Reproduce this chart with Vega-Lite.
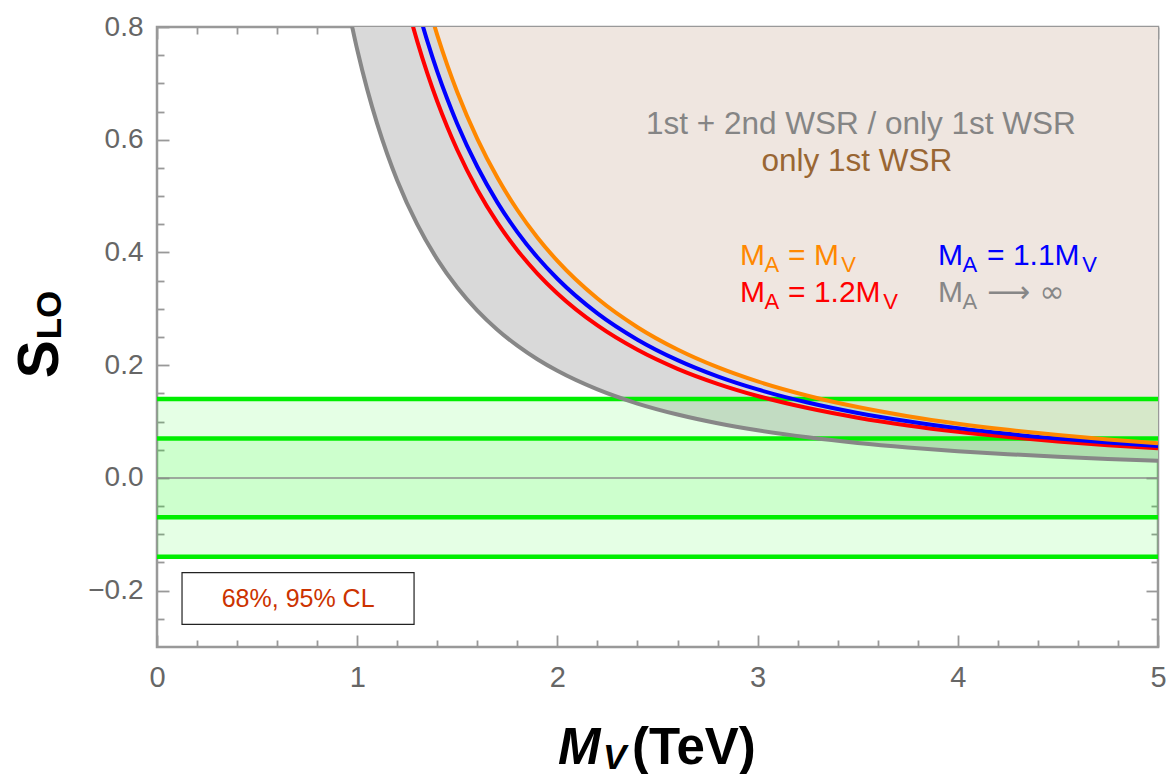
{
  "$schema": "https://vega.github.io/schema/vega-lite/v6.json",
  "width": 1001,
  "height": 620,
  "autosize": {"type": "none"},
  "padding": {"left": 157, "top": 27, "right": 8, "bottom": 127},
  "background": "white",
  "config": {
    "view": {"stroke": "#999999", "strokeWidth": 2.5},
    "axis": {"domain": false, "grid": false, "labelFont": "Liberation Sans", "labelColor": "#666666", "tickColor": "#999999", "tickWidth": 1.8, "labelFlush": false, "labelOverlap": false, "labelBound": false, "zindex": 1, "title": null},
    "text": {"font": "Liberation Sans"}
  },
  "datasets": {
    "curves": [
      {"M": 0.95, "S": 0.8421, "series": "MA→∞"},
      {"M": 1.0, "S": 0.76, "series": "MA→∞"},
      {"M": 1.05, "S": 0.6893, "series": "MA→∞"},
      {"M": 1.1, "S": 0.6281, "series": "MA→∞"},
      {"M": 1.15, "S": 0.5747, "series": "MA→∞"},
      {"M": 1.2, "S": 0.5278, "series": "MA→∞"},
      {"M": 1.3, "S": 0.4497, "series": "MA→∞"},
      {"M": 1.4, "S": 0.3878, "series": "MA→∞"},
      {"M": 1.5, "S": 0.3378, "series": "MA→∞"},
      {"M": 1.6, "S": 0.2969, "series": "MA→∞"},
      {"M": 1.7, "S": 0.263, "series": "MA→∞"},
      {"M": 1.8, "S": 0.2346, "series": "MA→∞"},
      {"M": 1.9, "S": 0.2105, "series": "MA→∞"},
      {"M": 2.0, "S": 0.19, "series": "MA→∞"},
      {"M": 2.2, "S": 0.157, "series": "MA→∞"},
      {"M": 2.4, "S": 0.1319, "series": "MA→∞"},
      {"M": 2.6, "S": 0.1124, "series": "MA→∞"},
      {"M": 2.8, "S": 0.0969, "series": "MA→∞"},
      {"M": 3.0, "S": 0.0844, "series": "MA→∞"},
      {"M": 3.25, "S": 0.072, "series": "MA→∞"},
      {"M": 3.5, "S": 0.062, "series": "MA→∞"},
      {"M": 3.75, "S": 0.054, "series": "MA→∞"},
      {"M": 4.0, "S": 0.0475, "series": "MA→∞"},
      {"M": 4.25, "S": 0.0421, "series": "MA→∞"},
      {"M": 4.5, "S": 0.0375, "series": "MA→∞"},
      {"M": 4.75, "S": 0.0337, "series": "MA→∞"},
      {"M": 5.0, "S": 0.0304, "series": "MA→∞"},
      {"M": 1.25, "S": 0.8378, "series": "MA=1.2MV"},
      {"M": 1.3, "S": 0.7746, "series": "MA=1.2MV"},
      {"M": 1.35, "S": 0.7182, "series": "MA=1.2MV"},
      {"M": 1.4, "S": 0.6679, "series": "MA=1.2MV"},
      {"M": 1.45, "S": 0.6226, "series": "MA=1.2MV"},
      {"M": 1.5, "S": 0.5818, "series": "MA=1.2MV"},
      {"M": 1.6, "S": 0.5113, "series": "MA=1.2MV"},
      {"M": 1.7, "S": 0.4529, "series": "MA=1.2MV"},
      {"M": 1.8, "S": 0.404, "series": "MA=1.2MV"},
      {"M": 1.9, "S": 0.3626, "series": "MA=1.2MV"},
      {"M": 2.0, "S": 0.3273, "series": "MA=1.2MV"},
      {"M": 2.2, "S": 0.2705, "series": "MA=1.2MV"},
      {"M": 2.4, "S": 0.2273, "series": "MA=1.2MV"},
      {"M": 2.6, "S": 0.1936, "series": "MA=1.2MV"},
      {"M": 2.8, "S": 0.167, "series": "MA=1.2MV"},
      {"M": 3.0, "S": 0.1454, "series": "MA=1.2MV"},
      {"M": 3.25, "S": 0.1239, "series": "MA=1.2MV"},
      {"M": 3.5, "S": 0.1069, "series": "MA=1.2MV"},
      {"M": 3.75, "S": 0.0931, "series": "MA=1.2MV"},
      {"M": 4.0, "S": 0.0818, "series": "MA=1.2MV"},
      {"M": 4.25, "S": 0.0725, "series": "MA=1.2MV"},
      {"M": 4.5, "S": 0.0646, "series": "MA=1.2MV"},
      {"M": 4.75, "S": 0.058, "series": "MA=1.2MV"},
      {"M": 5.0, "S": 0.0524, "series": "MA=1.2MV"},
      {"M": 1.3, "S": 0.836, "series": "MA=1.1MV"},
      {"M": 1.35, "S": 0.7753, "series": "MA=1.1MV"},
      {"M": 1.4, "S": 0.7209, "series": "MA=1.1MV"},
      {"M": 1.45, "S": 0.6721, "series": "MA=1.1MV"},
      {"M": 1.5, "S": 0.628, "series": "MA=1.1MV"},
      {"M": 1.6, "S": 0.552, "series": "MA=1.1MV"},
      {"M": 1.7, "S": 0.4889, "series": "MA=1.1MV"},
      {"M": 1.8, "S": 0.4361, "series": "MA=1.1MV"},
      {"M": 1.9, "S": 0.3914, "series": "MA=1.1MV"},
      {"M": 2.0, "S": 0.3533, "series": "MA=1.1MV"},
      {"M": 2.2, "S": 0.2919, "series": "MA=1.1MV"},
      {"M": 2.4, "S": 0.2453, "series": "MA=1.1MV"},
      {"M": 2.6, "S": 0.209, "series": "MA=1.1MV"},
      {"M": 2.8, "S": 0.1802, "series": "MA=1.1MV"},
      {"M": 3.0, "S": 0.157, "series": "MA=1.1MV"},
      {"M": 3.25, "S": 0.1338, "series": "MA=1.1MV"},
      {"M": 3.5, "S": 0.1153, "series": "MA=1.1MV"},
      {"M": 3.75, "S": 0.1005, "series": "MA=1.1MV"},
      {"M": 4.0, "S": 0.0883, "series": "MA=1.1MV"},
      {"M": 4.25, "S": 0.0782, "series": "MA=1.1MV"},
      {"M": 4.5, "S": 0.0698, "series": "MA=1.1MV"},
      {"M": 4.75, "S": 0.0626, "series": "MA=1.1MV"},
      {"M": 5.0, "S": 0.0565, "series": "MA=1.1MV"},
      {"M": 1.35, "S": 0.845, "series": "MA=MV"},
      {"M": 1.4, "S": 0.7857, "series": "MA=MV"},
      {"M": 1.45, "S": 0.7325, "series": "MA=MV"},
      {"M": 1.5, "S": 0.6844, "series": "MA=MV"},
      {"M": 1.6, "S": 0.6016, "series": "MA=MV"},
      {"M": 1.7, "S": 0.5329, "series": "MA=MV"},
      {"M": 1.8, "S": 0.4753, "series": "MA=MV"},
      {"M": 1.9, "S": 0.4266, "series": "MA=MV"},
      {"M": 2.0, "S": 0.385, "series": "MA=MV"},
      {"M": 2.2, "S": 0.3182, "series": "MA=MV"},
      {"M": 2.4, "S": 0.2674, "series": "MA=MV"},
      {"M": 2.6, "S": 0.2278, "series": "MA=MV"},
      {"M": 2.8, "S": 0.1964, "series": "MA=MV"},
      {"M": 3.0, "S": 0.1711, "series": "MA=MV"},
      {"M": 3.25, "S": 0.1458, "series": "MA=MV"},
      {"M": 3.5, "S": 0.1257, "series": "MA=MV"},
      {"M": 3.75, "S": 0.1095, "series": "MA=MV"},
      {"M": 4.0, "S": 0.09625, "series": "MA=MV"},
      {"M": 4.25, "S": 0.0853, "series": "MA=MV"},
      {"M": 4.5, "S": 0.076, "series": "MA=MV"},
      {"M": 4.75, "S": 0.0683, "series": "MA=MV"},
      {"M": 5.0, "S": 0.0616, "series": "MA=MV"}
    ],
    "bands": [
      {"band": "95% CL", "lo": -0.14, "hi": 0.14, "xmin": 0, "xmax": 5},
      {"band": "68% CL", "lo": -0.07, "hi": 0.07, "xmin": 0, "xmax": 5}
    ],
    "bandEdges": [
      {"edge": 0.14}, {"edge": 0.07}, {"edge": -0.07}, {"edge": -0.14}
    ],
    "zero": [{"level": 0}],
    "clBox": [{"x0": 0.125, "x1": 1.284, "y0": -0.168, "y1": -0.26, "xc": 0.705, "yc": -0.214, "text": "68%, 95% CL"}],
    "regionLabels": [
      {"text": "1st + 2nd WSR / only 1st WSR", "x": 3.516, "y": 0.611, "series": "WSR12"},
      {"text": "only 1st WSR", "x": 3.496, "y": 0.545, "series": "WSR1"}
    ],
    "eqMain": [
      {"text": "M", "x": 2.912, "y": 0.377, "series": "MA=MV"},
      {"text": "= M", "x": 3.152, "y": 0.377, "series": "MA=MV"},
      {"text": "M", "x": 3.901, "y": 0.377, "series": "MA=1.1MV"},
      {"text": "= 1.1M", "x": 4.146, "y": 0.377, "series": "MA=1.1MV"},
      {"text": "M", "x": 2.912, "y": 0.3115, "series": "MA=1.2MV"},
      {"text": "= 1.2M", "x": 3.152, "y": 0.3115, "series": "MA=1.2MV"},
      {"text": "M", "x": 3.901, "y": 0.3115, "series": "MA→∞"}
    ],
    "eqArrow": [
      {"text": "⟶ ∞", "x": 4.146, "y": 0.3115, "series": "MA→∞"}
    ],
    "eqSub": [
      {"text": "A", "x": 3.034, "y": 0.365, "series": "MA=MV"},
      {"text": "V", "x": 3.418, "y": 0.365, "series": "MA=MV"},
      {"text": "A", "x": 4.023, "y": 0.365, "series": "MA=1.1MV"},
      {"text": "V", "x": 4.622, "y": 0.365, "series": "MA=1.1MV"},
      {"text": "A", "x": 3.034, "y": 0.2995, "series": "MA=1.2MV"},
      {"text": "V", "x": 3.628, "y": 0.2995, "series": "MA=1.2MV"},
      {"text": "A", "x": 4.023, "y": 0.2995, "series": "MA→∞"}
    ],
    "titles": [
      {"part": "xMain", "text": "M", "x": 2.003, "y": -0.508},
      {"part": "xSub", "text": "V", "x": 2.228, "y": -0.516},
      {"part": "xUnit", "text": "(TeV)", "x": 2.373, "y": -0.508},
      {"part": "yMain", "text": "S", "x": -0.4945, "y": 0.177},
      {"part": "ySub", "text": "LO", "x": -0.4795, "y": 0.246}
    ]
  },
  "layer": [
    {
      "data": {"name": "curves"},
      "transform": [{"filter": "datum.series === 'MA→∞'"}],
      "mark": {"type": "area", "color": "#D9D9D9", "clip": true, "interpolate": "monotone"},
      "encoding": {
        "x": {"field": "M", "type": "quantitative", "scale": {"domain": [0, 5], "nice": false, "zero": false},
          "axis": {"orient": "bottom", "values": [0, 1, 2, 3, 4, 5], "format": "d", "tickSize": -12, "labelFontSize": 29, "labelPadding": 28}},
        "y": {"field": "S", "type": "quantitative", "scale": {"domain": [-0.3, 0.8], "nice": false, "zero": false},
          "axis": {"orient": "left", "values": [-0.2, 0, 0.2, 0.4, 0.6, 0.8], "format": ".1f", "tickSize": -12, "labelFontSize": 28, "labelPadding": 26}},
        "y2": {"datum": 0.8}
      }
    },
    {
      "data": {"name": "curves"},
      "transform": [{"filter": "datum.series === 'MA=MV'"}],
      "mark": {"type": "area", "color": "#EFE6E0", "clip": true, "interpolate": "monotone"},
      "encoding": {
        "x": {"field": "M", "type": "quantitative", "scale": {"domain": [0, 5], "nice": false, "zero": false},
          "axis": {"orient": "bottom", "labels": false, "tickSize": -7, "values": [0.2,0.4,0.6,0.8,1.2,1.4,1.6,1.8,2.2,2.4,2.6,2.8,3.2,3.4,3.6,3.8,4.2,4.4,4.6,4.8]}},
        "y": {"field": "S", "type": "quantitative", "scale": {"domain": [-0.3, 0.8], "nice": false, "zero": false},
          "axis": {"orient": "left", "labels": false, "tickSize": -7, "values": [-0.25,-0.15,-0.1,-0.05,0.05,0.1,0.15,0.25,0.3,0.35,0.45,0.5,0.55,0.65,0.7,0.75]}},
        "y2": {"datum": 0.8}
      }
    },
    {
      "data": {"name": "bands"},
      "mark": {"type": "rect", "color": "#00FF00", "opacity": 0.1},
      "encoding": {
        "x": {"field": "xmin", "type": "quantitative", "scale": {"domain": [0, 5], "nice": false, "zero": false},
          "axis": {"orient": "top", "labels": false, "tickSize": -12, "values": [0, 1, 2, 3, 4, 5]}},
        "x2": {"field": "xmax"},
        "y": {"field": "lo", "type": "quantitative", "scale": {"domain": [-0.3, 0.8], "nice": false, "zero": false},
          "axis": {"orient": "right", "labels": false, "tickSize": -12, "values": [-0.2, 0, 0.2, 0.4, 0.6, 0.8]}},
        "y2": {"field": "hi"}
      }
    },
    {
      "data": {"name": "zero"},
      "mark": {"type": "rule", "color": "#8C8C8C", "strokeWidth": 1.5},
      "encoding": {
        "y": {"field": "level", "type": "quantitative", "scale": {"domain": [-0.3, 0.8], "nice": false, "zero": false}, "axis": null}
      }
    },
    {
      "data": {"name": "bandEdges"},
      "mark": {"type": "rule", "color": "#00EE00", "strokeWidth": 4.5},
      "encoding": {
        "y": {"field": "edge", "type": "quantitative", "scale": {"domain": [-0.3, 0.8], "nice": false, "zero": false}, "axis": null}
      }
    },
    {
      "data": {"name": "curves"},
      "mark": {"type": "line", "strokeWidth": 4, "clip": true, "interpolate": "monotone"},
      "encoding": {
        "x": {"field": "M", "type": "quantitative", "scale": {"domain": [0, 5], "nice": false, "zero": false},
          "axis": {"orient": "top", "labels": false, "tickSize": -7, "values": [0.2,0.4,0.6,0.8,1.2,1.4,1.6,1.8,2.2,2.4,2.6,2.8,3.2,3.4,3.6,3.8,4.2,4.4,4.6,4.8]}},
        "y": {"field": "S", "type": "quantitative", "scale": {"domain": [-0.3, 0.8], "nice": false, "zero": false},
          "axis": {"orient": "right", "labels": false, "tickSize": -7, "values": [-0.25,-0.15,-0.1,-0.05,0.05,0.1,0.15,0.25,0.3,0.35,0.45,0.5,0.55,0.65,0.7,0.75]}},
        "color": {"field": "series", "type": "nominal", "legend": null,
          "scale": {"domain": ["MA→∞", "MA=1.2MV", "MA=1.1MV", "MA=MV", "WSR12", "WSR1"], "range": ["#878787", "#FF0000", "#0000FF", "#FF8800", "#858585", "#996633"]}},
        "order": {"field": "M", "type": "quantitative"}
      }
    },
    {
      "data": {"name": "clBox"},
      "mark": {"type": "rect", "fill": "white", "stroke": "#222222", "strokeWidth": 1.2},
      "encoding": {
        "x": {"field": "x0", "type": "quantitative", "scale": {"domain": [0, 5], "nice": false, "zero": false}, "axis": null},
        "x2": {"field": "x1"},
        "y": {"field": "y0", "type": "quantitative", "scale": {"domain": [-0.3, 0.8], "nice": false, "zero": false}, "axis": null},
        "y2": {"field": "y1"}
      }
    },
    {
      "data": {"name": "clBox"},
      "mark": {"type": "text", "color": "#CC3300", "fontSize": 25, "align": "center", "baseline": "middle"},
      "encoding": {
        "x": {"field": "xc", "type": "quantitative", "scale": {"domain": [0, 5], "nice": false, "zero": false}, "axis": null},
        "y": {"field": "yc", "type": "quantitative", "scale": {"domain": [-0.3, 0.8], "nice": false, "zero": false}, "axis": null},
        "text": {"field": "text"}
      }
    },
    {
      "data": {"name": "regionLabels"},
      "mark": {"type": "text", "fontSize": 31.5, "align": "center", "baseline": "alphabetic"},
      "encoding": {
        "x": {"field": "x", "type": "quantitative", "scale": {"domain": [0, 5], "nice": false, "zero": false}, "axis": null},
        "y": {"field": "y", "type": "quantitative", "scale": {"domain": [-0.3, 0.8], "nice": false, "zero": false}, "axis": null},
        "text": {"field": "text"},
        "color": {"field": "series", "type": "nominal", "legend": null}
      }
    },
    {
      "data": {"name": "eqMain"},
      "mark": {"type": "text", "fontSize": 30, "align": "left", "baseline": "alphabetic"},
      "encoding": {
        "x": {"field": "x", "type": "quantitative", "scale": {"domain": [0, 5], "nice": false, "zero": false}, "axis": null},
        "y": {"field": "y", "type": "quantitative", "scale": {"domain": [-0.3, 0.8], "nice": false, "zero": false}, "axis": null},
        "text": {"field": "text"},
        "color": {"field": "series", "type": "nominal", "legend": null}
      }
    },
    {
      "data": {"name": "eqArrow"},
      "mark": {"type": "text", "fontSize": 30, "font": "DejaVu Sans", "align": "left", "baseline": "alphabetic"},
      "encoding": {
        "x": {"field": "x", "type": "quantitative", "scale": {"domain": [0, 5], "nice": false, "zero": false}, "axis": null},
        "y": {"field": "y", "type": "quantitative", "scale": {"domain": [-0.3, 0.8], "nice": false, "zero": false}, "axis": null},
        "text": {"field": "text"},
        "color": {"field": "series", "type": "nominal", "legend": null}
      }
    },
    {
      "data": {"name": "eqSub"},
      "mark": {"type": "text", "fontSize": 22, "align": "left", "baseline": "alphabetic"},
      "encoding": {
        "x": {"field": "x", "type": "quantitative", "scale": {"domain": [0, 5], "nice": false, "zero": false}, "axis": null},
        "y": {"field": "y", "type": "quantitative", "scale": {"domain": [-0.3, 0.8], "nice": false, "zero": false}, "axis": null},
        "text": {"field": "text"},
        "color": {"field": "series", "type": "nominal", "legend": null}
      }
    },
    {
      "data": {"name": "titles"},
      "transform": [{"filter": "datum.part === 'xMain'"}],
      "mark": {"type": "text", "fontSize": 51, "fontWeight": "bold", "fontStyle": "italic", "align": "left", "baseline": "alphabetic", "color": "black"},
      "encoding": {
        "x": {"field": "x", "type": "quantitative", "scale": {"domain": [0, 5], "nice": false, "zero": false}, "axis": null},
        "y": {"field": "y", "type": "quantitative", "scale": {"domain": [-0.3, 0.8], "nice": false, "zero": false}, "axis": null},
        "text": {"field": "text"}
      }
    },
    {
      "data": {"name": "titles"},
      "transform": [{"filter": "datum.part === 'xSub'"}],
      "mark": {"type": "text", "fontSize": 35, "fontWeight": "bold", "fontStyle": "italic", "align": "left", "baseline": "alphabetic", "color": "black"},
      "encoding": {
        "x": {"field": "x", "type": "quantitative", "scale": {"domain": [0, 5], "nice": false, "zero": false}, "axis": null},
        "y": {"field": "y", "type": "quantitative", "scale": {"domain": [-0.3, 0.8], "nice": false, "zero": false}, "axis": null},
        "text": {"field": "text"}
      }
    },
    {
      "data": {"name": "titles"},
      "transform": [{"filter": "datum.part === 'xUnit'"}],
      "mark": {"type": "text", "fontSize": 51, "fontWeight": "bold", "align": "left", "baseline": "alphabetic", "color": "black"},
      "encoding": {
        "x": {"field": "x", "type": "quantitative", "scale": {"domain": [0, 5], "nice": false, "zero": false}, "axis": null},
        "y": {"field": "y", "type": "quantitative", "scale": {"domain": [-0.3, 0.8], "nice": false, "zero": false}, "axis": null},
        "text": {"field": "text"}
      }
    },
    {
      "data": {"name": "titles"},
      "transform": [{"filter": "datum.part === 'yMain'"}],
      "mark": {"type": "text", "fontSize": 57, "fontWeight": "bold", "angle": 270, "align": "left", "baseline": "alphabetic", "color": "black"},
      "encoding": {
        "x": {"field": "x", "type": "quantitative", "scale": {"domain": [0, 5], "nice": false, "zero": false}, "axis": null},
        "y": {"field": "y", "type": "quantitative", "scale": {"domain": [-0.3, 0.8], "nice": false, "zero": false}, "axis": null},
        "text": {"field": "text"}
      }
    },
    {
      "data": {"name": "titles"},
      "transform": [{"filter": "datum.part === 'ySub'"}],
      "mark": {"type": "text", "fontSize": 35, "fontWeight": "bold", "angle": 270, "align": "left", "baseline": "alphabetic", "color": "black"},
      "encoding": {
        "x": {"field": "x", "type": "quantitative", "scale": {"domain": [0, 5], "nice": false, "zero": false}, "axis": null},
        "y": {"field": "y", "type": "quantitative", "scale": {"domain": [-0.3, 0.8], "nice": false, "zero": false}, "axis": null},
        "text": {"field": "text"}
      }
    }
  ],
  "resolve": {"axis": {"x": "independent", "y": "independent"}}
}
